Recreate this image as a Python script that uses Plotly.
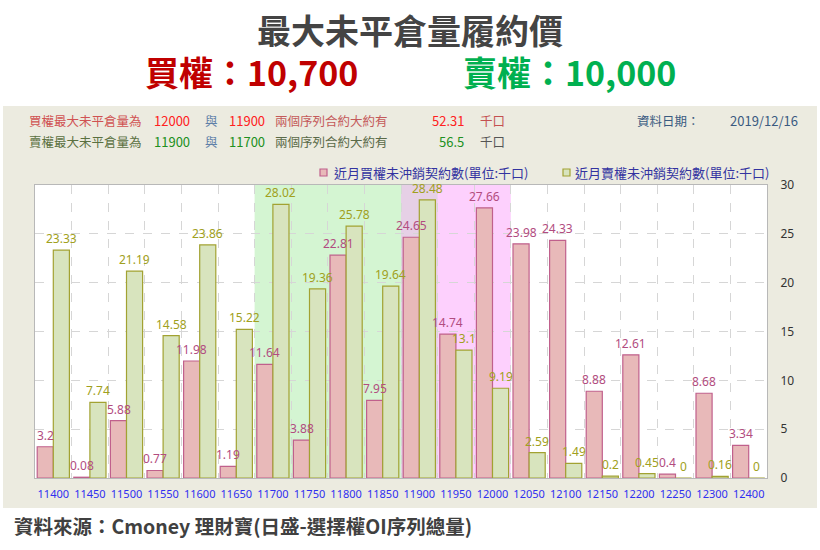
import plotly.graph_objects as go

# data
strikes = [11400, 11450, 11500, 11550, 11600, 11650, 11700, 11750, 11800, 11850,
           11900, 11950, 12000, 12050, 12100, 12150, 12200, 12250, 12300, 12400]
call_oi = [3.2, 0.08, 5.88, 0.77, 11.98, 1.19, 11.64, 3.88, 22.81, 7.95,
           24.65, 14.74, 27.66, 23.98, 24.33, 8.88, 12.61, 0.4, 8.68, 3.34]
put_oi = [23.33, 7.74, 21.19, 14.58, 23.86, 15.22, 28.02, 19.36, 25.78, 19.64,
          28.48, 13.1, 9.19, 2.59, 1.49, 0.2, 0.45, 0, 0.16, 0]
series_names = ["近月買權未沖銷契約數(單位:千口)", "近月賣權未沖銷契約數(單位:千口)"]

call_top2 = [12000, 11900]
put_top2 = [11900, 11700]
call_top2_sum = "52.31"
put_top2_sum = "56.5"
data_date = "2019/12/16"
call_level = "10,700"
put_level = "10,000"

W, H = 820, 550
L, R, T, B = 35, 53, 185, 72
PW, PH = W - L - R, H - T - B

CJK = "Noto Sans CJK TC"
LAT = "Noto Sans"

PINK, PINK_LINE, PINK_TXT = "#E8B9B9", "#C0608C", "#B24C80"
GREEN, GREEN_LINE, GREEN_TXT = "#D8E4BE", "#A2A232", "#A0A020"


def px(x):
    return (x - L) / PW


def py(y):
    return (H - B - y) / PH


fig = go.Figure()
cats = [str(s) for s in strikes]

fig.add_trace(go.Bar(x=cats, y=call_oi, name=series_names[0],
                     marker=dict(color=PINK, line=dict(color=PINK_LINE, width=1.2))))
fig.add_trace(go.Bar(x=cats, y=put_oi, name=series_names[1],
                     marker=dict(color=GREEN, line=dict(color=GREEN_LINE, width=1.2))))

shapes = []
# grey panel behind everything, white plot area on top of it
shapes.append(dict(type="rect", xref="paper", yref="paper", layer="below",
                   x0=px(3), x1=px(817), y0=py(508), y1=py(106),
                   fillcolor="#ECEBE0", line=dict(width=0)))
shapes.append(dict(type="rect", xref="paper", yref="paper", layer="below",
                   x0=0, x1=1, y0=0, y1=1, fillcolor="white", line=dict(width=0)))

# highlight bands: put top-2 range (green), call top-2 range (pink), overlap
pi = sorted(strikes.index(s) for s in put_top2)
ci = sorted(strikes.index(s) for s in call_top2)
oi = (max(pi[0], ci[0]), min(pi[1], ci[1]))
for (a, b), col in [(pi, "#D4F5D2"), (ci, "#FDD0FD"), (oi, "#E6D0E6")]:
    if a <= b:
        shapes.append(dict(type="rect", xref="x", yref="paper", layer="below",
                           x0=a - 0.5, x1=b + 0.5, y0=0, y1=1,
                           fillcolor=col, line=dict(width=0)))

# legend squares
shapes.append(dict(type="rect", xref="paper", yref="paper",
                   x0=px(320), x1=px(327), y0=py(176), y1=py(169),
                   fillcolor=PINK, line=dict(color=PINK_LINE, width=1.2)))
shapes.append(dict(type="rect", xref="paper", yref="paper",
                   x0=px(563), x1=px(570), y0=py(176), y1=py(169),
                   fillcolor=GREEN, line=dict(color=GREEN_LINE, width=1.2)))

ann = []

# value labels above the bars (annotations so they sit on top of both bar sets)
for vals, shift, col in [(call_oi, -8, PINK_TXT), (put_oi, 8, GREEN_TXT)]:
    for i, v in enumerate(vals):
        ann.append(dict(text=f"{v:g}", x=i, y=v, xref="x", yref="y",
                        xanchor="center", yanchor="bottom", xshift=shift, yshift=1,
                        showarrow=False, font=dict(family=LAT, size=12, color=col)))


def text(t, x, y, size, color, anchor="left", bold=False, family=CJK):
    ann.append(dict(text=f"<b>{t}</b>" if bold else t, x=px(x), y=py(y),
                    xref="paper", yref="paper", xanchor=anchor, yanchor="middle",
                    showarrow=False, font=dict(family=family, size=size, color=color)))


# header
text("最大未平倉量履約價", 410, 30, 34, "#444444", "center", True)
text(f"買權：{call_level}", 143, 71, 34, "#C00000", "left", True)
text(f"賣權：{put_level}", 461, 71, 34, "#00B050", "left", True)

# info rows
text("買權最大未平倉量為", 27, 120, 12.5, "#D05252")
text(str(call_top2[0]), 152, 120, 13, "#FF2020")
text("與", 203, 120, 12.5, "#6080A8")
text(str(call_top2[1]), 227, 120, 13, "#FF2020")
text("兩個序列合約大約有", 273, 120, 12.5, "#C45A5A")
text(call_top2_sum, 466, 120, 13, "#FF2020", "right")
text("千口", 478, 120, 12.5, "#C45050")

text("賣權最大未平倉量為", 27, 141, 12.5, "#5A7040")
text(str(put_top2[0]), 152, 141, 13, "#209020")
text("與", 203, 141, 12.5, "#6080A8")
text(str(put_top2[1]), 227, 141, 13, "#209020")
text("兩個序列合約大約有", 273, 141, 12.5, "#5A6A48")
text(put_top2_sum, 466, 141, 13, "#209020", "right")
text("千口", 478, 141, 12.5, "#555555")

text("資料日期：", 635, 120, 12.5, "#3A5A80")
text(data_date, 728, 120, 13, "#3A5A80")

# legend text
text(series_names[0], 332, 172, 13, "#3333A0")
text(series_names[1], 573, 172, 13, "#3333A0")

# source
text("資料來源：Cmoney 理財寶(日盛-選擇權OI序列總量)", 12, 525, 19.5, "#404040", "left", True)

fig.update_layout(
    width=W, height=H,
    margin=dict(l=L, r=R, t=T, b=B),
    paper_bgcolor="white", plot_bgcolor="white",
    barmode="group", bargap=0.12, bargroupgap=0,
    showlegend=False,
    shapes=shapes, annotations=ann,
    xaxis=dict(type="category", tickson="boundaries", showgrid=True,
               gridcolor="#D6D6D6", griddash="dash", gridwidth=1,
               showline=True, linecolor="#B8B8B8", mirror=True, ticks="",
               tickangle=0, range=[-0.5, len(cats) - 0.5], ticklabelstandoff=6,
               tickfont=dict(family=LAT, size=11, color="#3030F0")),
    yaxis=dict(side="right", range=[0, 30], dtick=5, showgrid=True,
               gridcolor="#D6D6D6", griddash="dash", gridwidth=1, zeroline=False,
               showline=True, linecolor="#B8B8B8", mirror=True, ticks="",
               ticklabelstandoff=10,
               tickfont=dict(family=LAT, size=12, color="#333333")),
)

fig.write_html("out.html", config={"displayModeBar": False},
               post_script="document.body.style.margin='0px';")
